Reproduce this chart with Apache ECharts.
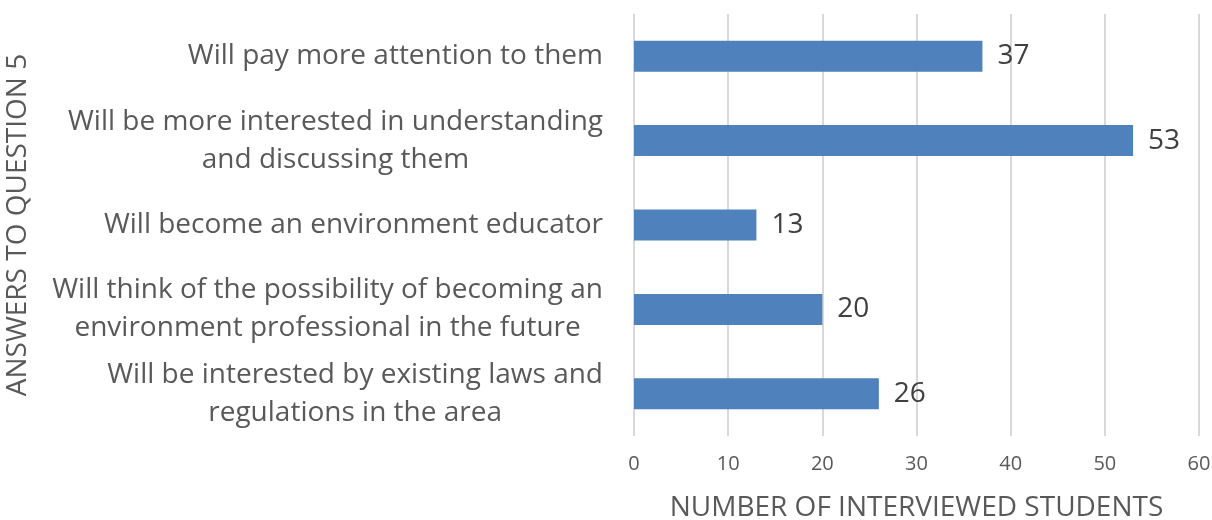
<!DOCTYPE html>
<html>
<head>
<meta charset="utf-8">
<script src="https://cdn.jsdelivr.net/npm/echarts@6/dist/echarts.min.js"></script>
<style>
  html, body { margin: 0; padding: 0; background: #fff; }
  #main { width: 1212px; height: 520px; }
</style>
</head>
<body>
<div id="main"></div>
<script>
var categories = [
    'Will pay more attention to them',
    'Will be more interested in understanding\nand discussing them',
    'Will become an environment educator',
    'Will think of the possibility of becoming an\nenvironment professional in the future',
    'Will be interested by existing laws and\nregulations in the area'
];
var students = [37, 53, 13, 20, 26];
var xTicks = [0, 60, 10];

var fontName = '"Open Sans", "Noto Sans", sans-serif';

var chart = echarts.init(document.getElementById('main'));

var option = {
    animation: false,
    grid: {
        left: 634,
        right: 13,
        top: 14,
        bottom: 84,
        outerBoundsMode: 'none'
    },
    xAxis: {
        type: 'value',
        min: xTicks[0],
        max: xTicks[1],
        interval: xTicks[2],
        name: 'NUMBER OF INTERVIEWED STUDENTS',
        nameLocation: 'middle',
        nameGap: 58,
        nameTextStyle: {
            fontSize: 28,
            color: '#595959',
            fontFamily: fontName
        },
        axisLine: { show: false },
        axisTick: { show: false },
        axisLabel: {
            fontSize: 20,
            color: '#595959',
            fontFamily: fontName,
            margin: 18
        },
        splitLine: {
            lineStyle: { color: '#D9D9D9', width: 2 }
        }
    },
    yAxis: {
        type: 'category',
        data: categories,
        inverse: true,
        name: 'ANSWERS TO QUESTION 5',
        nameLocation: 'middle',
        nameRotate: 90,
        nameGap: 602,
        nameTextStyle: {
            fontSize: 28,
            color: '#595959',
            fontFamily: fontName
        },
        axisLine: { show: false },
        axisTick: { show: false },
        axisLabel: {
            margin: 31,
            formatter: function (value) {
                return value.split('\n').map(function (l) {
                    return '{c|' + l + '}';
                }).join('\n');
            },
            rich: {
                c: {
                    align: 'center',
                    fontSize: 28,
                    lineHeight: 38,
                    color: '#595959',
                    fontFamily: fontName
                }
            }
        }
    },
    series: [{
        name: 'Students',
        type: 'bar',
        data: students,
        barWidth: 31,
        itemStyle: { color: '#4F81BD' },
        label: {
            show: true,
            position: 'right',
            distance: 15,
            fontSize: 28,
            color: '#404040',
            fontFamily: fontName
        }
    }]
};

chart.setOption(option);

window.addEventListener('resize', function () {
    chart.resize();
});
</script>
</body>
</html>
